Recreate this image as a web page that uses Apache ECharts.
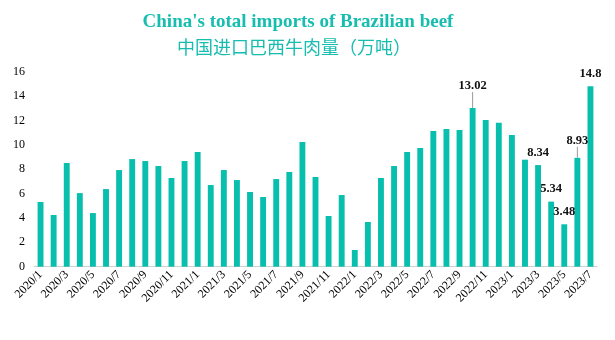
<!DOCTYPE html>
<html><head><meta charset="utf-8">
<script src="https://cdn.jsdelivr.net/npm/echarts@6/dist/echarts.min.js"></script>
<style>html,body{margin:0;padding:0;background:#fff}#c{width:615px;height:340px}</style>
</head><body><div id="c"></div>
<script>
var categories = ['2020/1','2020/2','2020/3','2020/4','2020/5','2020/6','2020/7','2020/8','2020/9','2020/10','2020/11','2020/12',
'2021/1','2021/2','2021/3','2021/4','2021/5','2021/6','2021/7','2021/8','2021/9','2021/10','2021/11','2021/12',
'2022/1','2022/2','2022/3','2022/4','2022/5','2022/6','2022/7','2022/8','2022/9','2022/10','2022/11','2022/12',
'2023/1','2023/2','2023/3','2023/4','2023/5','2023/6','2023/7'];
var imports = [5.31,4.24,8.51,6.04,4.40,6.37,7.93,8.83,8.67,8.26,7.28,8.67,
9.41,6.70,7.93,7.11,6.13,5.72,7.19,7.77,10.23,7.36,4.16,5.88,
1.37,3.67,7.28,8.26,9.41,9.74,11.13,11.30,11.21,13.02,12.04,11.82,
10.80,8.78,8.34,5.34,3.48,8.93,14.8];
var labelledMonths = ['2022/10','2023/3','2023/4','2023/5','2023/6','2023/7'];
var leaderMonths = {'2022/10': -10, '2023/6': -5};
var titleEn = "China's total imports of Brazilian beef";
var titleZh = "中国进口巴西牛肉量（万吨）";

var serif = "'Liberation Serif','Times New Roman',serif";
var teal = '#08BFAE';
var data = imports.map(function(v, i){
  var d = {value: v};
  var c = categories[i];
  if (labelledMonths.indexOf(c) >= 0) {
    d.label = {show: true};
    d.labelLine = {show: leaderMonths[c] !== undefined};
  }
  return d;
});
var chart = echarts.init(document.getElementById('c'));
chart.setOption({
  animation: false,
  title: [
    {text: titleEn, left: 293, top: 8, textAlign: 'center',
     textStyle: {fontFamily: serif, fontWeight: 'bold', fontSize: 19, color: '#17BDAF'}},
    {text: titleZh, left: 289, top: 33, textAlign: 'center',
     textStyle: {fontFamily: "'Noto Sans CJK SC',sans-serif", fontWeight: 'normal', fontSize: 18, color: '#17BDAF'}}
  ],
  grid: {left: 34, right: 18, top: 71.7, bottom: 73.3, containLabel: false},
  xAxis: {
    type: 'category', data: categories,
    axisLine: {lineStyle: {color: '#d0d0d0'}},
    axisTick: {interval: 1, lineStyle: {color: '#d0d0d0'}, length: 5},
    axisLabel: {interval: 1, rotate: 45, fontFamily: serif, fontSize: 12, color: '#000', margin: 6}
  },
  yAxis: {
    type: 'value', min: 0, max: 16, interval: 2,
    splitLine: {show: false},
    axisLine: {show: false}, axisTick: {show: false},
    axisLabel: {fontFamily: serif, fontSize: 12, color: '#000', margin: 9}
  },
  series: [{
    type: 'bar', data: data, barWidth: '45%',
    itemStyle: {color: teal},
    label: {show: false, position: 'top', distance: 6, fontFamily: serif, fontWeight: 'bold', fontSize: 12.5, color: '#111'},
    labelLine: {show: false, lineStyle: {color: '#999', width: 1}},
    labelLayout: function(p){
      var c = categories[p.dataIndex];
      if (leaderMonths[c] !== undefined) return {dy: leaderMonths[c]};
      return {};
    }
  }]
});
</script></body></html>
